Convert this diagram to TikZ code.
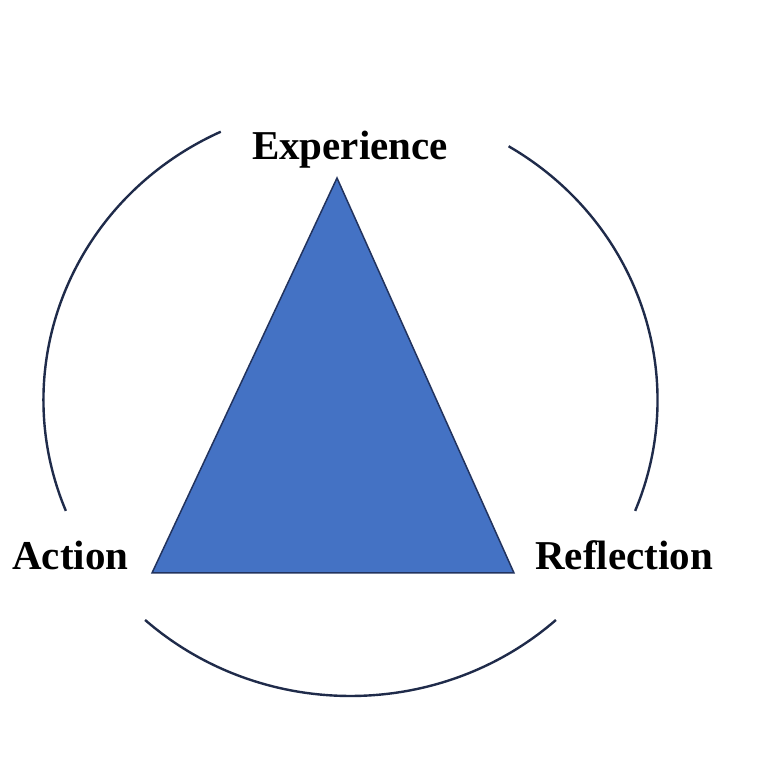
\documentclass[tikz,border=0pt]{standalone}
\usepackage{fontspec}
\setmainfont{Liberation Serif}
\definecolor{trifill}{HTML}{4472C4}
\definecolor{triedge}{HTML}{22335E}
\definecolor{arccol}{HTML}{1F2B4A}
\begin{document}
\begin{tikzpicture}[x=1pt,y=1pt,
  lbl/.style={font=\fontsize{41}{41}\selectfont\bfseries, inner sep=0pt},
  tri/.style={fill=trifill, draw=triedge, line width=1.5pt, line join=miter},
  ring/.style={draw=arccol, line width=2.4pt}]
\useasboundingbox[fill=white] (0,0) rectangle (768,768);
\coordinate (C) at (350.5,368);
\coordinate (top) at (337,590);
\coordinate (bl) at (152,195);
\coordinate (br) at (514,195);
\draw[tri] (top) -- (bl) -- (br) -- cycle;
\draw[ring] ([shift={(115:307 and 296)}]C) arc[start angle=115,end angle=202,x radius=307,y radius=296];
\draw[ring] ([shift={(59:307 and 296)}]C) arc[start angle=59,end angle=-22,x radius=307,y radius=296];
\draw[ring] ([shift={(228:307 and 296)}]C) arc[start angle=228,end angle=312,x radius=307,y radius=296];
\node[lbl, anchor=base] (exp) at (350,608) {Experience};
\node[lbl, anchor=base west] (act) at (12,198) {Action};
\node[lbl, anchor=base west] (ref) at (535,198) {Reflection};
\end{tikzpicture}
\end{document}
